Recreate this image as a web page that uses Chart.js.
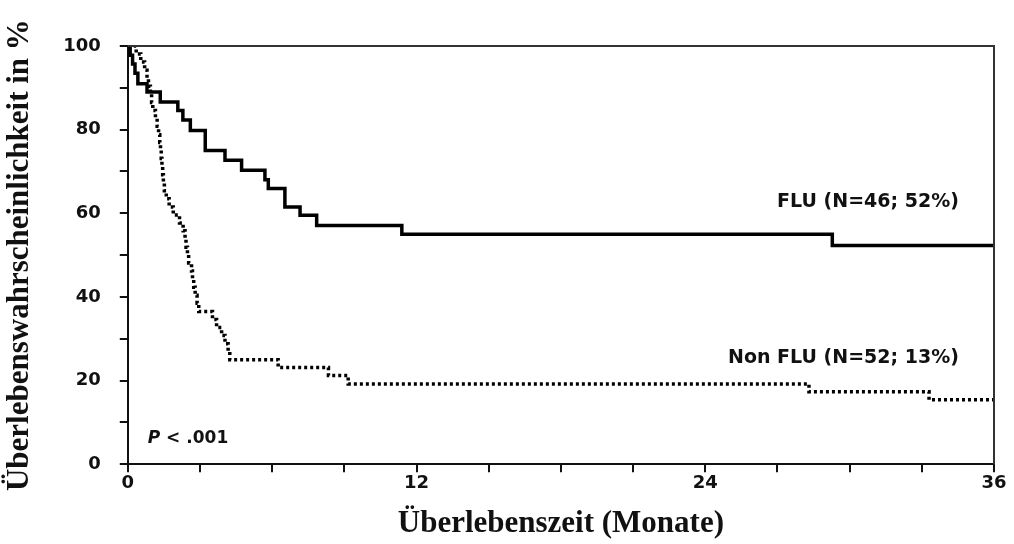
<!DOCTYPE html>
<html>
<head>
<meta charset="utf-8">
<script src="https://cdn.jsdelivr.net/npm/chart.js@4.4.1/dist/chart.umd.min.js"></script>
<style>
  html, body { margin: 0; padding: 0; background: #fff; }
  #wrap { width: 1014px; height: 544px; position: relative; }
</style>
</head>
<body>
<div id="wrap"><canvas id="c" width="1014" height="544"></canvas></div>
<script>
// ---- data ----
const fluMonths   = [0, 0.1, 0.2, 0.3, 0.42, 0.8, 1.35, 2.08, 2.29, 2.6, 3.22, 4.04, 4.73, 5.70, 5.84, 6.53, 7.16, 7.85, 11.39, 29.28, 36];
const fluSurvival = [100, 97.8, 95.7, 93.5, 91.0, 89.0, 86.6, 84.6, 82.3, 79.8, 75.0, 72.7, 70.3, 68.0, 65.9, 61.5, 59.5, 57.1, 55.0, 52.3, 52.3];

const nonFluMonths   = [0, 0.35, 0.54, 0.7, 0.8, 0.86, 0.94, 0.99, 1.04, 1.15, 1.22, 1.28, 1.33, 1.36, 1.39, 1.42, 1.45, 1.48, 1.52, 1.6, 1.72, 1.89, 2.15, 2.3, 2.38, 2.42, 2.48, 2.53, 2.65, 2.69, 2.74, 2.8, 2.88, 2.95, 3.52, 3.69, 3.9, 4.04, 4.17, 4.24, 6.25, 8.34, 9.16, 28.31, 33.3, 36];
const nonFluSurvival = [100, 98.1, 96.2, 94.2, 92.3, 90.4, 88.5, 86.5, 84.6, 82.7, 80.8, 78.8, 76.9, 75.0, 73.1, 71.2, 69.2, 67.3, 65.4, 63.5, 61.5, 59.6, 57.7, 55.8, 53.8, 51.9, 50.0, 48.1, 46.2, 44.2, 42.3, 40.4, 38.5, 36.5, 34.6, 32.7, 30.8, 28.8, 26.9, 25.0, 23.1, 21.2, 19.2, 17.3, 15.4, 15.4];

const xTickLabels = [0, 12, 24, 36];
const yTickLabels = [0, 20, 40, 60, 80, 100];

const seriesLabels = ['FLU (N=46; 52%)', 'Non FLU (N=52; 13%)'];
const pValueText = '< .001';
const xTitle = 'Überlebenszeit (Monate)';
const yTitle = 'Überlebenswahrscheinlichkeit in %';

// ---- build ----
const toPoints = (xs, ys) => xs.map((x, i) => ({ x: x, y: ys[i] }));

const tickFont = { family: 'DejaVu Sans', weight: 'bold', size: 18 };
const titleFont = { family: 'Liberation Serif', weight: 'bold', size: 31 };

const boxAndText = {
  id: 'boxAndText',
  afterDatasetsDraw(chart) {
    const { ctx, chartArea: a, scales } = chart;
    const xs = scales.x, ys = scales.y;
    ctx.save();
    // frame top + right
    ctx.strokeStyle = '#333';
    ctx.lineWidth = 2;
    ctx.beginPath();
    ctx.moveTo(a.left, a.top);
    ctx.lineTo(a.right, a.top);
    ctx.lineTo(a.right, a.bottom);
    ctx.stroke();
    // annotations
    ctx.fillStyle = '#111';
    ctx.textBaseline = 'middle';
    ctx.font = 'bold 19px "DejaVu Sans"';
    ctx.textAlign = 'right';
    ctx.fillText(seriesLabels[0], xs.getPixelForValue(34.54), ys.getPixelForValue(62.6));
    ctx.fillText(seriesLabels[1], xs.getPixelForValue(34.54), ys.getPixelForValue(25.4));
    ctx.textAlign = 'left';
    const px = xs.getPixelForValue(0.83), py = ys.getPixelForValue(6.2);
    ctx.font = 'italic bold 17px "DejaVu Sans"';
    ctx.fillText('P', px, py);
    const w = ctx.measureText('P ').width;
    ctx.font = 'bold 17px "DejaVu Sans"';
    ctx.fillText(pValueText, px + w, py);
    ctx.restore();
  }
};

new Chart(document.getElementById('c'), {
  type: 'line',
  data: {
    datasets: [
      {
        label: seriesLabels[0],
        data: toPoints(fluMonths, fluSurvival),
        borderColor: '#000',
        borderWidth: 3.5,
        stepped: 'before',
        pointRadius: 0,
        fill: false
      },
      {
        label: seriesLabels[1],
        data: toPoints(nonFluMonths, nonFluSurvival),
        borderColor: '#000',
        borderWidth: 3.5,
        borderDash: [3, 3],
        stepped: 'before',
        pointRadius: 0,
        fill: false
      }
    ]
  },
  options: {
    responsive: false,
    animation: false,
    layout: { padding: { top: 46, right: 20, left: 1, bottom: 1 } },
    plugins: { legend: { display: false }, tooltip: { enabled: false } },
    scales: {
      x: {
        type: 'linear',
        min: 0, max: 36,
        ticks: {
          stepSize: 3,
          color: '#111',
          font: tickFont,
          padding: 0,
          maxRotation: 0,
          autoSkip: false,
          callback: v => xTickLabels.includes(v) ? String(v) : ''
        },
        grid: { drawOnChartArea: false, drawTicks: true, tickLength: 8, color: '#111', lineWidth: 2 },
        border: { display: true, color: '#111', width: 2 },
        title: { display: true, text: xTitle, color: '#111', font: titleFont, padding: { top: 12, bottom: 0 } }
      },
      y: {
        min: 0, max: 100,
        ticks: {
          stepSize: 10,
          color: '#111',
          font: tickFont,
          padding: 19,
          autoSkip: false,
          callback: v => yTickLabels.includes(v) ? String(v) : ''
        },
        grid: { drawOnChartArea: false, drawTicks: true, tickLength: 8, color: '#111', lineWidth: 2 },
        border: { display: true, color: '#111', width: 2 },
        title: { display: true, text: yTitle, color: '#111', font: titleFont, padding: { top: 0, bottom: 6 } }
      }
    }
  },
  plugins: [boxAndText]
});
</script>
</body>
</html>
